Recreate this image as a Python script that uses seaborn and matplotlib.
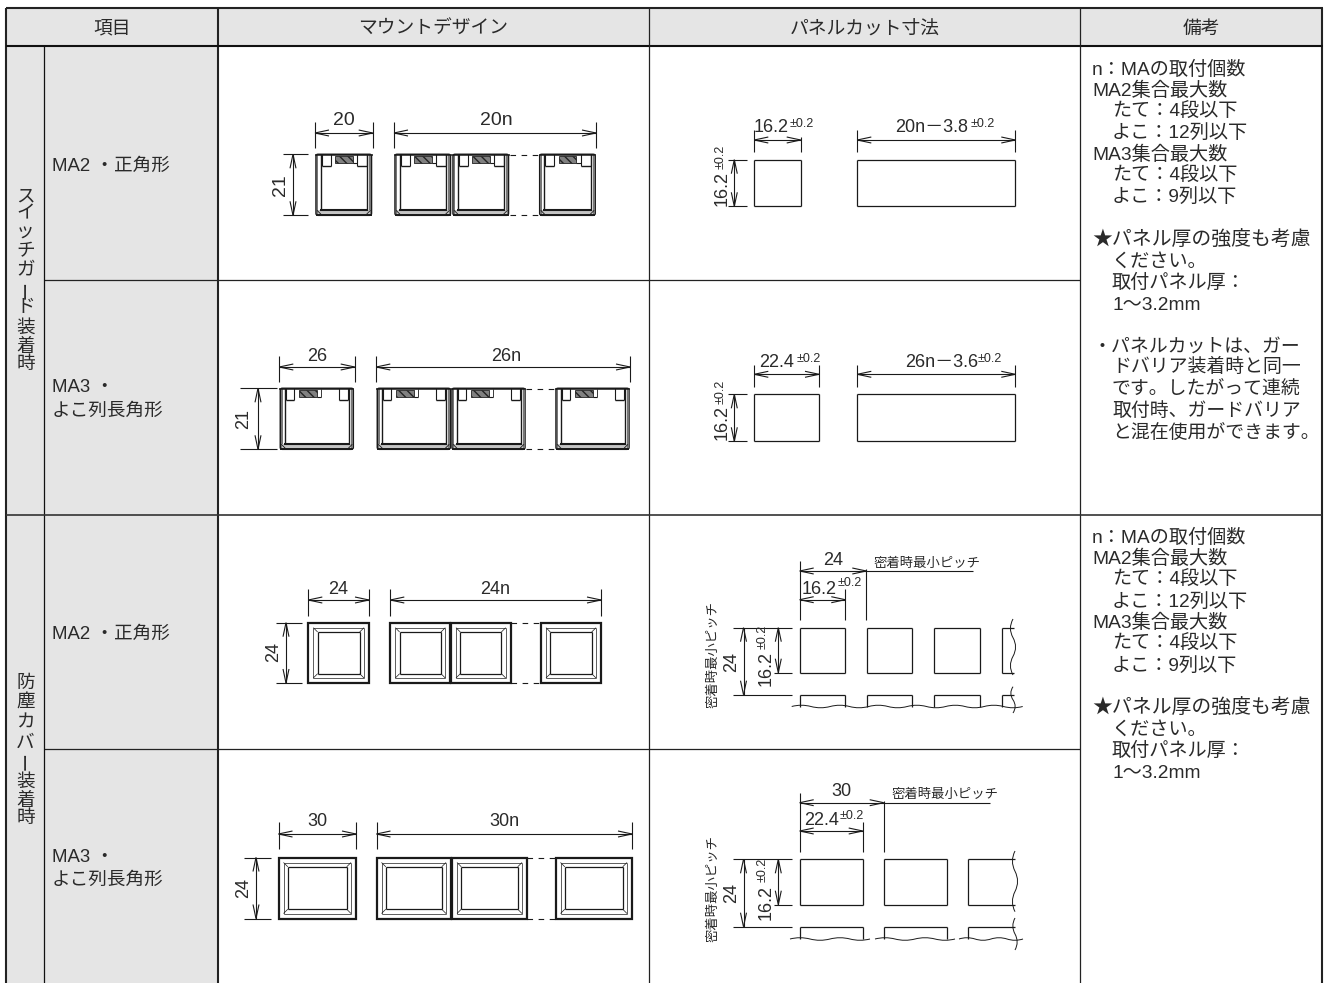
import matplotlib
matplotlib.use("Agg")
import matplotlib.pyplot as plt
import pandas as pd
import seaborn as sns
from matplotlib.patches import Rectangle, PathPatch, FancyBboxPatch
from matplotlib.path import Path

# ---------- content ----------
header_labels = ["項目", "マウントデザイン", "パネルカット寸法", "備考"]
group_labels = ["スイッチガード装着時", "防塵カバー装着時"]
row_labels = [["MA2 ・正角形"], ["MA3 ・", "よこ列長角形"], ["MA2 ・正角形"], ["MA3 ・", "よこ列長角形"]]
mount_single = ["20", "26", "24", "30"]
mount_multi = ["20n", "26n", "24n", "30n"]
mount_height = ["21", "21", "24", "24"]
cut_width = ["16.2", "22.4", "16.2", "22.4"]
cut_multi = ["20n－3.8", "26n－3.6"]
cut_pitch = ["24", "30"]
cut_pitch_side = "24"
cut_height = "16.2"
tolerance = "±0.2"
pitch_note = "密着時最小ピッチ"
notes_common = [
    ("n：MAの取付個数", 0), ("MA2集合最大数", 0), ("たて：4段以下", 1), ("よこ：12列以下", 1),
    ("MA3集合最大数", 0), ("たて：4段以下", 1), ("よこ：9列以下", 1), ("", 0),
    ("", 0),
    ("★パネル厚の強度も考慮", 0), ("ください。", 1), ("取付パネル厚：", 1), ("1〜3.2mm", 1),
]
notes_extra = ["・パネルカットは、ガー", "ドバリア装着時と同一", "です。したがって連続",
               "取付時、ガードバリア", "と混在使用ができます。"]

# ---------- setup ----------
sns.set_theme(style="white")
FONT = ["Liberation Sans", "Noto Sans CJK JP", "DejaVu Sans"]
plt.rcParams["font.family"] = FONT
INK = "#1a1a1a"
TXT = "#2a2a2a"
GRAY = "#e5e5e5"

fig = plt.figure(figsize=(13.25, 9.83), dpi=100)
ax = fig.add_axes([0, 0, 1, 1])
ax.set_xlim(0, 1325)
ax.set_ylim(983, 0)
ax.axis("off")

segments = {}
def seg(x0, y0, x1, y1, lw=0.8, color=INK, ls="-"):
    segments.setdefault((lw, color, ls), []).append((x0, y0, x1, y1))

def flush():
    for (lw, color, ls), items in segments.items():
        rows = []
        for i, (x0, y0, x1, y1) in enumerate(items):
            rows += [dict(x=x0, y=y0, u=i, o=0), dict(x=x1, y=y1, u=i, o=1)]
        sns.lineplot(data=pd.DataFrame(rows), x="x", y="y", units="u", estimator=None, sort=False,
                     color=color, lw=lw, linestyle=ls, ax=ax, zorder=3, solid_capstyle="butt",
                     legend=False, errorbar=None)
    ax.set_xlim(0, 1325)
    ax.set_ylim(983, 0)
    ax.axis("off")

def txt(x, y, s, size=13, ha="center", va="center", rot=0, color=TXT):
    if rot == 0:
        y = y + 1.5
    ax.text(x, y, s, fontsize=size, ha=ha, va=va, rotation=rot, color=color, family=FONT, zorder=5)

def line_txt(x, y, s, size, ha="left"):
    # y is the visual middle of the line; a shared baseline keeps kana and kanji level
    ax.text(x, y + 6.5, s, fontsize=size, ha=ha, va="baseline", color=TXT, family=FONT, zorder=5)

def arrow_h(x, y, d, L=14, w=3):
    seg(x, y, x + d * L, y - w)
    seg(x, y, x + d * L, y + w)

def arrow_v(x, y, d, L=14, w=3):
    seg(x, y, x - w, y + d * L)
    seg(x, y, x + w, y + d * L)

def dim_h(x0, x1, y, t0, t1, extend=None, t1r=None):
    seg(x0, y, extend if extend else x1, y)
    arrow_h(x0, y, 1)
    arrow_h(x1, y, -1)
    seg(x0, t0, x0, t1)
    seg(x1, t1r if t1r else t0, x1, t1)

def dim_v(x, y0, y1, e0, e1):
    seg(x, y0, x, y1)
    arrow_v(x, y0, 1)
    arrow_v(x, y1, -1)
    seg(e0, y0, e1, y0)
    seg(e0, y1, e1, y1)

def rect3(x0, y0, x1, y1, lw=0.9, color=INK):
    seg(x0, y0, x1, y0, lw, color)
    seg(x0, y1, x1, y1, lw, color)
    seg(x0, y0, x0, y1, lw, color)
    seg(x1, y0, x1, y1, lw, color)

def wave_h(x0, x1, y, n, amp=1.8):
    step = (x1 - x0) / n
    v, c = [(x0, y)], [Path.MOVETO]
    for i in range(n):
        sgn = 1 if i % 2 else -1
        v += [(x0 + step * (i + .5), y + sgn * amp * 2), (x0 + step * (i + 1), y)]
        c += [Path.CURVE3, Path.CURVE3]
    ax.add_patch(PathPatch(Path(v, c), fc="none", ec=INK, lw=0.7, zorder=3))

def wave_v(x, y0, y1, n, amp=3):
    step = (y1 - y0) / n
    v, c = [(x, y0)], [Path.MOVETO]
    for i in range(n):
        sgn = 1 if i % 2 else -1
        v += [(x + sgn * amp * 2, y0 + step * (i + .5)), (x, y0 + step * (i + 1))]
        c += [Path.CURVE3, Path.CURVE3]
    ax.add_patch(PathPatch(Path(v, c), fc="none", ec=INK, lw=0.7, zorder=3))

def guard(x, w, y, h, n0, n1, s0, s1, t1, r0, r1):
    ax.add_patch(FancyBboxPatch((x + 1, y), w - 2, h, boxstyle="round,pad=0,rounding_size=2",
                                fc="white", ec=INK, lw=1.1, zorder=2))
    ax.add_patch(Rectangle((x + 1.5, y + 1), 1.8, h - 2, fc="#777777", ec="none", zorder=2.5))
    ax.add_patch(Rectangle((x + w - 3.3, y + 1), 1.8, h - 2, fc="#777777", ec="none", zorder=2.5))
    seg(x + 5.5, y, x + 5.5, y + h - 5, 1.0)
    seg(x + w - 5.5, y, x + w - 5.5, y + h - 5, 1.0)
    ax.add_patch(Rectangle((x + 3, y + h - 5), w - 6, 4, fc="#c4c4c4", ec="none", zorder=2.5))
    seg(x + 4.5, y + h - 5.5, x + w - 4.5, y + h - 5.5, 1.5)
    seg(x + 1, y + h - .3, x + w - 1, y + h - .3, 1.4)
    seg(x + 2, y + h - 5, x + 6, y + h - 1, 0.6)
    seg(x + w - 2, y + h - 5, x + w - 6, y + h - 1, 0.6)
    seg(x, y + .4, x + w, y + .4, 1.1)
    for a, b in ((n0, n1), (r0, r1)):
        seg(x + a, y, x + a, y + 12, 0.8)
        seg(x + b, y, x + b, y + 12, 0.8)
        seg(x + a, y + 11.5, x + b, y + 11.5, 1.0)
    ax.add_patch(Rectangle((x + s0, y + 1.5), s1 - s0, 7.5, fc="#808080", ec="#222222", lw=0.6,
                           hatch="\\\\\\\\", zorder=3))
    seg(x + s1, y + 8.5, x + t1, y + 8.5, 0.8)
    seg(x + t1, y + 1, x + t1, y + 8.5, 0.6)

def cover(x0, x1, y0, y1, i0=5.0, i1=9.3):
    ax.add_patch(Rectangle((x0, y0), x1 - x0, y1 - y0, fc="white", ec=INK, lw=1.6, zorder=2))
    rect3(x0 + i0, y0 + i0, x1 - i0, y1 - i0, 0.6, "#444444")
    rect3(x0 + i1, y0 + i1, x1 - i1, y1 - i1, 0.9)
    seg(x0 + i0, y0 + i0, x0 + i1, y0 + i1, 0.5)
    seg(x1 - i0, y0 + i0, x1 - i1, y0 + i1, 0.5)
    seg(x0 + i0, y1 - i0, x0 + i1, y1 - i1, 0.5)
    seg(x1 - i0, y1 - i0, x1 - i1, y1 - i1, 0.5)

def break_dashes(x0, x1, ys):
    for y in ys:
        seg(x0, y, x1, y, 0.8, INK, (0, (5, 5)))

# ---------- table ----------
ax.add_patch(Rectangle((6, 8), 1316, 38, fc=GRAY, ec="none", zorder=0))
ax.add_patch(Rectangle((6, 46), 212, 937, fc=GRAY, ec="none", zorder=0))
TLW = 1.5
seg(5.5, 8, 1322.5, 8, TLW, "#222222")
seg(6, 8, 6, 983, TLW, "#222222")
seg(1322, 8, 1322, 983, TLW, "#222222")
seg(5.5, 46, 1322.5, 46, TLW, "#111111")
seg(218, 8, 218, 983, TLW, "#222222")
seg(649, 8, 649, 983, 0.9, "#222222")
seg(1080, 8, 1080, 983, 0.9, "#222222")
seg(44, 46, 44, 983, 0.9, "#111111")
seg(44, 280, 1080, 280, 0.9, "#222222")
seg(44, 749, 1080, 749, 0.9, "#222222")
seg(6, 514.5, 1322, 514.5, 1.2, "#333333")

for xc, lab in zip((112, 433, 865, 1201), header_labels):
    line_txt(xc, 27, lab, 13.5, ha="center")

# vertical group labels
def vchar(ch, y):
    if ch == "ー":
        txt(21, y, ch, 13.4, rot=-90)
    else:
        txt(25.5, y - 1.5, ch, 13.4)

for ch, y in zip(group_labels[0], [197, 214, 233, 252, 271, 292, 308, 328, 347, 365]):
    vchar(ch, y)
for ch, y in zip(group_labels[1], [683, 703, 723, 743, 763, 782, 801, 819]):
    vchar(ch, y)

# row labels
for labels, ys in zip(row_labels, ([164], [386, 409], [632], [855, 878])):
    for lab, y in zip(labels, ys):
        line_txt(52, y, lab, 13.4)

# remarks
YS1 = [68, 89, 110, 131, 153, 174, 195, 217, 239, 239, 260, 281, 303]
YS2 = [536, 557, 578, 600, 621, 642, 664, 686, 707, 707, 728, 750, 771]
for (line, ind), y1, y2 in zip(notes_common, YS1, YS2):
    if line:
        xx = 1112 if ind else 1092
        size = 14.3 if line.startswith("★") else 13.8
        line_txt(xx, y1, line, size)
        line_txt(xx, y2, line, size)
for i, (line, y) in enumerate(zip(notes_extra, (345, 366, 388, 410, 431))):
    line_txt(1092 if i == 0 else 1112, y, line, 13.6)

# ---------- mount column ----------
g = dict(n0=6.5, n1=15.5, s0=20, s1=37.5, t1=42, r0=42, r1=52)
for x in (315, 394, 452, 538.7):
    guard(x, 57.5, 154.3, 61, **g)
break_dashes(509.5, 538.7, (154.5, 215))
dim_h(315, 372.7, 133, 122, 148)
dim_h(394, 596, 133, 122, 148)
txt(344, 119, mount_single[0], 14)
txt(496, 119, mount_multi[0], 14)
dim_v(293, 154.3, 215.3, 282.7, 308)
txt(280, 185, mount_height[0], 14, rot=90)

g = dict(n0=6.7, n1=15, s0=20, s1=38, t1=42, r0=60, r1=69)
for x in (279.3, 376.3, 451, 555):
    guard(x, 75, 388.3, 61, **g)
break_dashes(526, 555, (388.5, 449))
dim_h(279.3, 354.7, 367, 356, 382)
dim_h(376.3, 630, 367, 356, 382)
txt(317, 355, mount_single[1], 13)
txt(506, 355, mount_multi[1], 13)
dim_v(258, 388.3, 449.3, 240, 277)
txt(244, 419, mount_height[1], 13, rot=90)

for a, b in ((308.3, 369), (390.3, 450.3), (451, 510.7), (541, 601)):
    cover(a, b, 622.7, 683)
break_dashes(510.7, 541, (622.7, 683))
dim_h(308.3, 369, 600, 589, 615.5)
dim_h(390.3, 601, 600, 589, 615.5)
txt(338, 588, mount_single[2], 13)
txt(495, 588, mount_multi[2], 13)
dim_v(286, 622.7, 683, 276, 301.7)
txt(274, 652, mount_height[2], 13, rot=90)

for a, b in ((278.5, 356), (376.5, 451), (452, 527), (555.5, 632)):
    cover(a, b, 857.5, 918.5)
break_dashes(527, 555.5, (857.5, 918.5))
dim_h(278.5, 356, 834, 822, 849)
dim_h(376.5, 632, 834, 822, 849)
txt(317, 820, mount_single[3], 13)
txt(504, 820, mount_multi[3], 13)
dim_v(256, 857.5, 918.5, 244, 271)
txt(244, 888, mount_height[3], 13, rot=90)

# ---------- panel cut column ----------
TOL = 9
def left_cut(y0, y1, ylabel, ytol):
    dim_v(734.3, y0, y1, 728, 746.7)
    txt(721.7, ylabel, cut_height, 13, rot=90)
    txt(720.7, ytol, tolerance, TOL, rot=90)

rect3(754.3, 159.7, 800.7, 206.3)
rect3(857.3, 159.7, 1015.3, 206.3)
dim_h(754.3, 800.7, 140, 130, 152, t1r=137)
dim_h(857.3, 1015.3, 140, 130, 152)
txt(771, 126, cut_width[0], 13)
txt(801.5, 122.5, tolerance, TOL)
txt(932, 126, cut_multi[0], 13)
txt(982.5, 122.5, tolerance, TOL)
left_cut(159.7, 206.3, 188, 156.7)

rect3(754.3, 394.3, 819, 441.3)
rect3(857.3, 394.3, 1015.3, 441.3)
dim_h(754.3, 819, 374.3, 365, 386.7)
dim_h(857.3, 1015.3, 374.3, 365, 386.7)
txt(777, 361, cut_width[1], 13)
txt(808.5, 357, tolerance, TOL)
txt(941.5, 361, cut_multi[1], 13)
txt(990, 357, tolerance, TOL)
left_cut(394.3, 441.3, 423, 391.7)

def pitch_block(xs_closed, x_open, xp, xw, y_dim, y_dim2, y_top, y_bot, y_next, y_ext, e_top, e2_top,
                y_line_end, pitch, width, lbl_x, lbl_y, w_lbl_x, w_lbl_y, tol_x, tol_y, note_x, note_y,
                rot_note_y, rot_pitch_y, rot_cut_y, rot_tol_y, y_wave):
    for a, b in xs_closed:
        seg(a, y_top, b, y_top, 0.9); seg(a, y_bot, b, y_bot, 0.9)
        seg(a, y_top, a, y_bot, 0.9); seg(b, y_top, b, y_bot, 0.9)
        seg(a, y_next, b, y_next, 0.9); seg(a, y_next, a, y_wave, 0.9); seg(b, y_next, b, y_wave, 0.9)
    seg(x_open[0], y_top, x_open[1], y_top, 0.9)
    seg(x_open[0], y_bot, x_open[1], y_bot, 0.9)
    seg(x_open[0], y_top, x_open[0], y_bot, 0.9)
    seg(x_open[0], y_next, x_open[1], y_next, 0.9)
    seg(x_open[0], y_next, x_open[0], y_wave, 0.9)
    seg(799.7, y_dim, y_line_end, y_dim); arrow_h(799.7, y_dim, 1); arrow_h(xp, y_dim, -1)
    seg(799.7, e_top, 799.7, y_ext); seg(xp, y_dim - 2, xp, y_ext)
    seg(799.7, y_dim2, xw, y_dim2); arrow_h(799.7, y_dim2, 1); arrow_h(xw, y_dim2, -1)
    seg(xw, e2_top, xw, y_ext)
    txt(lbl_x, lbl_y, pitch, 13)
    txt(w_lbl_x, w_lbl_y, width, 13)
    txt(tol_x, tol_y, tolerance, TOL)
    line_txt(note_x, note_y - 1, pitch_note, 9.6)
    seg(733, y_top, 791.7, y_top); seg(733, y_next, 791.7, y_next); seg(774, y_bot, 791.7, y_bot)
    seg(743.5, y_top, 743.5, y_next); arrow_v(743.5, y_top, 1); arrow_v(743.5, y_next, -1)
    seg(778.3, y_top, 778.3, y_bot); arrow_v(778.3, y_top, 1); arrow_v(778.3, y_bot, -1)
    txt(713, rot_note_y, pitch_note, 9.6, rot=90)
    txt(731.5, rot_pitch_y, cut_pitch_side, 13, rot=90)
    txt(766, rot_cut_y, cut_height, 13, rot=90)
    txt(763, rot_tol_y, tolerance, TOL, rot=90)

pitch_block([(799.7, 845.3), (866.7, 912.3), (934.3, 980)], (1001.7, 1014), 866.3, 845.3,
            571, 599.7, 627.7, 672.7, 694.7, 620, 560.7, 589, 972.7, cut_pitch[0], cut_width[2],
            832.7, 559, 819, 588, 849.5, 582, 874, 561, 654, 661.7, 669, 636.7, 707)
wave_h(791.7, 1022.7, 706.5, 12, 1.3)
wave_v(1013, 619, 675, 3, 2.6)
wave_v(1013, 686.7, 713, 2, 2.2)

pitch_block([(799.7, 862.7), (883.7, 946.7)], (968, 1015), 883.7, 862.7,
            802.7, 831, 859.3, 904.7, 926.7, 851.7, 793, 821.7, 990, cut_pitch[1], cut_width[3],
            841, 790.5, 821.7, 819, 852, 814.5, 891, 792, 888, 893, 902, 870, 939)
for a, b in ((790, 870), (875, 955), (959, 1023)):
    wave_h(a, b, 939, 4, 1.3)
wave_v(1015, 851, 911.7, 3, 2.6)
wave_v(1015, 918, 950, 2, 2.2)

flush()
fig.savefig("out.png", dpi=100)
